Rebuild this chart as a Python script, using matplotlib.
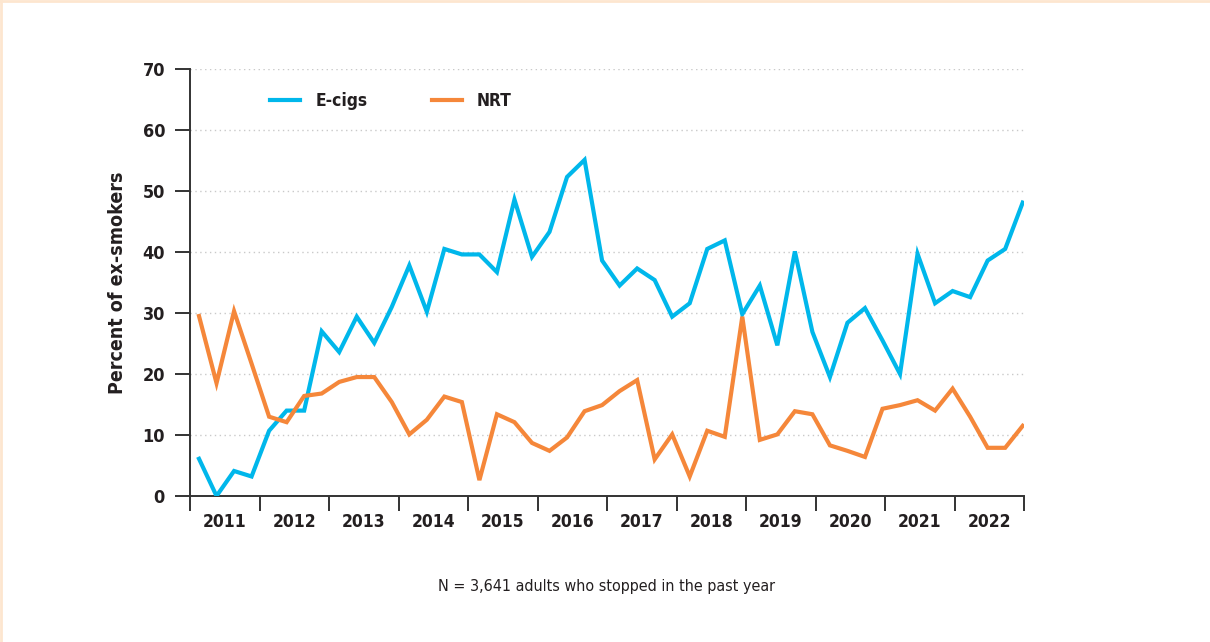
import matplotlib
matplotlib.use("Agg")
import matplotlib.pyplot as plt
from matplotlib import font_manager
from matplotlib.lines import Line2D
import numpy as np

years = ["2011", "2012", "2013", "2014", "2015", "2016", "2017", "2018",
         "2019", "2020", "2021", "2022"]

ecigs = [6.1, 0.0, 4.1, 3.2, 10.7, 14.0, 14.0, 27.0, 23.6, 29.4, 25.1, 31.0,
         37.8, 30.2, 40.5, 39.6, 39.6, 36.7, 48.6, 39.2, 43.3, 52.3, 55.1, 38.6,
         34.5, 37.3, 35.4, 29.4, 31.6, 40.5, 41.9, 29.8, 34.5, 24.7, 40.1, 26.9,
         19.5, 28.4, 30.8, 25.5, 20.0, 39.7, 31.6, 33.6, 32.6, 38.6, 40.5, 48.1]

nrt = [29.5, 18.5, 30.3, 21.7, 13.0, 12.1, 16.4, 16.8, 18.7, 19.5, 19.5, 15.4,
       10.1, 12.5, 16.3, 15.4, 2.6, 13.4, 12.1, 8.7, 7.4, 9.6, 13.9, 14.9,
       17.2, 19.0, 6.0, 10.1, 3.2, 10.7, 9.7, 29.4, 9.2, 10.1, 13.9, 13.4,
       8.3, 7.4, 6.4, 14.3, 14.9, 15.7, 14.0, 17.6, 13.0, 7.9, 7.9, 11.5]

yticks = [0, 10, 20, 30, 40, 50, 60, 70]

available = {f.name for f in font_manager.fontManager.ttflist}
if "Liberation Sans Narrow" in available:
    fam = ["Liberation Sans Narrow", "DejaVu Sans"]
    stretch = "normal"
else:
    fam = ["DejaVu Sans"]
    stretch = "condensed"
plt.rcParams["font.family"] = fam

TXT = "#231f20"
C_E = "#00b7eb"
C_N = "#f5873a"

fig = plt.figure(figsize=(12.1, 6.42), dpi=100)
fig.patch.set_facecolor("white")
fig.add_artist(Line2D([0, 1], [0.9985, 0.9985], transform=fig.transFigure,
                      color="#fde6cf", lw=2.0))
fig.add_artist(Line2D([0.0010, 0.0010], [0, 1], transform=fig.transFigure,
                      color="#fde6cf", lw=2.0))

ax = fig.add_axes([190 / 1210, 1 - 496 / 642, (1024 - 190) / 1210, (496 - 69) / 642])

x = np.arange(len(ecigs))
ax.plot(x, ecigs, color=C_E, lw=3.0, solid_joinstyle="miter", zorder=3)
ax.plot(x, nrt, color=C_N, lw=3.0, solid_joinstyle="miter", zorder=3)

step = 17.52
xl = -9.0 / step
xr = 47 + 1.3 / step
ax.set_xlim(xl, xr)
ax.set_ylim(0, 70)

bounds = np.linspace(xl, xr, len(years) + 1)
mids = (bounds[:-1] + bounds[1:]) / 2
ax.set_xticks(bounds)
ax.set_xticklabels([])
ax.set_xticks(mids, minor=True)
ax.set_xticklabels(years, minor=True, fontsize=12.5, fontweight="bold",
                   color=TXT, fontstretch=stretch)
ax.tick_params(axis="x", which="major", direction="out", length=11, width=1.4,
               color="#333333")
ax.tick_params(axis="x", which="minor", length=0, pad=12)

ax.set_yticks(yticks)
ax.set_yticklabels([str(v) for v in yticks], fontsize=13, fontweight="bold",
                   color=TXT, fontstretch=stretch)
ax.tick_params(axis="y", direction="out", length=11, width=1.4, color="#333333",
               pad=7)

for v in yticks[1:]:
    ax.axhline(v, color="#c9c9c9", lw=1.0, linestyle=(0, (1, 2.5)), zorder=1)

for s in ["top", "right"]:
    ax.spines[s].set_visible(False)
for s in ["left", "bottom"]:
    ax.spines[s].set_color("#333333")
    ax.spines[s].set_linewidth(1.4)

ax.set_ylabel("Percent of ex-smokers", fontsize=14, fontweight="bold",
              color=TXT, labelpad=11, fontstretch=stretch)

handles = [Line2D([], [], color=C_E, lw=3.0), Line2D([], [], color=C_N, lw=3.0)]
leg = ax.legend(handles, ["E-cigs", "NRT"], ncol=2, frameon=False,
                loc="center left", bbox_to_anchor=(0.096, 0.925),
                borderaxespad=0, borderpad=0,
                handlelength=1.75, handletextpad=0.85, columnspacing=3.7,
                prop={"size": 12.5, "weight": "bold", "stretch": stretch})
for t in leg.get_texts():
    t.set_color(TXT)

fig.text(607 / 1210, 1 - 586 / 642, "N = 3,641 adults who stopped in the past year",
         ha="center", va="center", fontsize=11.5, color=TXT, fontstretch=stretch)

fig.savefig("out.png", dpi=100, facecolor="white")
